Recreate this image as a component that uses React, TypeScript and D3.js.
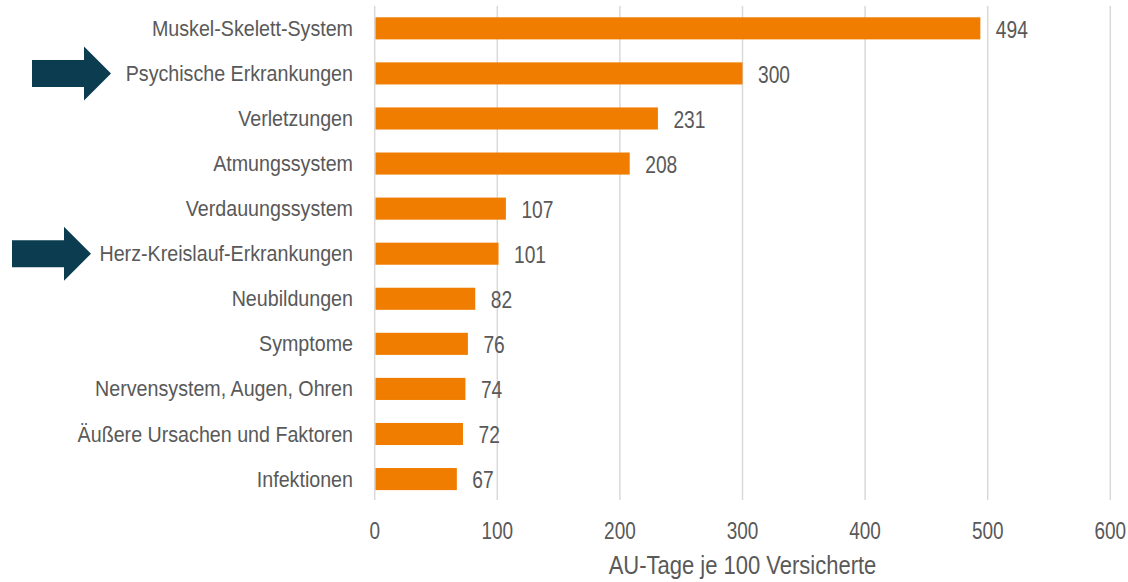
import React from "react";
import * as d3 from "d3";

const categories = [
  "Muskel-Skelett-System",
  "Psychische Erkrankungen",
  "Verletzungen",
  "Atmungssystem",
  "Verdauungssystem",
  "Herz-Kreislauf-Erkrankungen",
  "Neubildungen",
  "Symptome",
  "Nervensystem, Augen, Ohren",
  "Äußere Ursachen und Faktoren",
  "Infektionen",
];
const values = [494, 300, 231, 208, 107, 101, 82, 76, 74, 72, 67];
const xTicks = [0, 100, 200, 300, 400, 500, 600];
const highlighted = ["Psychische Erkrankungen", "Herz-Kreislauf-Erkrankungen"];
const arrowOffsets = [32, 12];
const axisTitle = "AU-Tage je 100 Versicherte";

const font = "'Liberation Sans', Arial, sans-serif";
const textColor = "#595959";

function T({ x, y, size, sx, anchor, children }: any) {
  return (
    <text
      transform={`translate(${x},${y}) scale(${sx},1)`}
      dy="0.35em"
      textAnchor={anchor || "start"}
      fontSize={size}
      fill={textColor}
    >
      {children}
    </text>
  );
}

export default function App() {
  const W = 1128, H = 582;
  const x = d3.scaleLinear().domain([0, 600]).range([374.7, 1110.3]);
  const y = d3.scaleBand<string>().domain(categories).range([5.8, 501.6]).paddingInner(0.51).paddingOuter(0.255);
  return (
    <svg width={W} height={H} style={{ position: "absolute", left: 0, top: 0 }} fontFamily={font}>
      <rect width={W} height={H} fill="#fff" />
      {xTicks.map((t) => (
        <line key={t} x1={x(t)} x2={x(t)} y1={6} y2={500} stroke="#d9d9d9" strokeWidth={1.5} />
      ))}
      {categories.map((c, i) => {
        const yc = y(c)! + y.bandwidth() / 2;
        return (
          <g key={c}>
            <rect x={x(0) + 0.8} y={y(c)} width={x(values[i]) - x(0) - 0.8} height={y.bandwidth()} fill="#F07D00" />
            <T x={353} y={yc} size={21.5} sx={0.915} anchor="end">{c}</T>
            <T x={x(values[i]) + 15.5} y={yc + 1} size={24} sx={0.8}>{values[i]}</T>
          </g>
        );
      })}
      {highlighted.map((c, k) => {
        const yc = y(c)! + y.bandwidth() / 2;
        const x0 = arrowOffsets[k];
        const pts = [
          [x0, yc - 13.5], [x0 + 52, yc - 13.5], [x0 + 52, yc - 27], [x0 + 79, yc],
          [x0 + 52, yc + 27], [x0 + 52, yc + 13.5], [x0, yc + 13.5],
        ];
        return <polygon key={c} points={pts.map((p) => p.join(",")).join(" ")} fill="#0B3C50" />;
      })}
      {xTicks.map((t) => (
        <T key={t} x={x(t)} y={531} size={24} sx={0.79} anchor="middle">{t}</T>
      ))}
      <T x={742.5} y={565} size={25} sx={0.88} anchor="middle">{axisTitle}</T>
    </svg>
  );
}
